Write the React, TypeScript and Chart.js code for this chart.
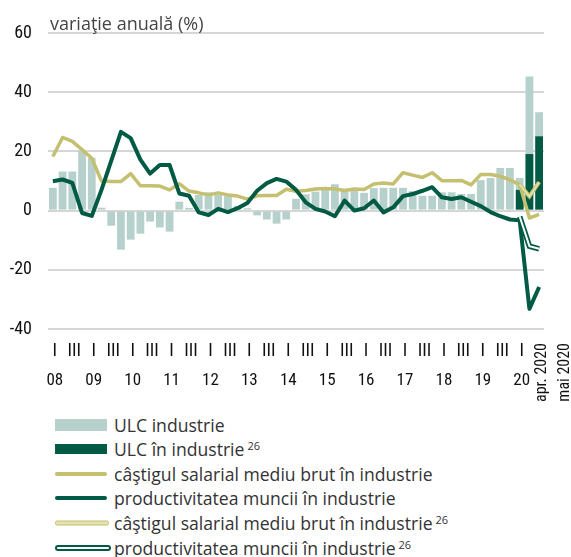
import React, { useEffect, useRef } from "react";
import { Chart, registerables } from "chart.js";

Chart.register(...registerables);

// ---------- data ----------
const YEARS = ["2008", "2009", "2010", "2011", "2012", "2013", "2014", "2015", "2016", "2017", "2018", "2019"];
const QUARTERS = ["I", "II", "III", "IV"];
const MONTHS = ["apr. 2020", "mai 2020"];
const CATEGORIES: string[] = [
  ...YEARS.flatMap((y) => QUARTERS.map((q) => `${y} ${q}`)),
  "2020 I",
  ...MONTHS,
];

// ULC industrie (annual % change)
const ULC_INDUSTRIE = [
  7.7, 13.2, 13.2, 20.2, 17.8, 1.0, -5.1, -13.2, -9.8, -7.8, -3.7, -5.7,
  -7.1, 3.0, 0.9, 5.3, 6.2, 5.3, 4.9, 1.5, 0.8, -1.6, -3.0, -4.4,
  -3.0, 4.0, 5.5, 6.4, 7.3, 8.9, 7.3, 7.3, 6.0, 7.6, 7.7, 7.7,
  7.7, 6.6, 5.0, 5.0, 6.2, 6.2, 5.6, 5.6, 10.3, 11.0, 14.4, 14.4,
  11.0, 45.3, 33.2,
];

// ULC în industrie (26)
const ULC_INDUSTRIE_26 = [
  null, null, null, null, null, null, null, null, null, null, null, null,
  null, null, null, null, null, null, null, null, null, null, null, null,
  null, null, null, null, null, null, null, null, null, null, null, null,
  null, null, null, null, null, null, null, null, null, null, null, null,
  7.0, 19.1, 25.1,
];

// câştigul salarial mediu brut în industrie
const CASTIG = [
  18.3, 24.7, 23.4, 20.6, 17.7, 10.0, 9.8, 9.8, 12.5, 8.4, 8.4, 8.3,
  7.0, 9.1, 6.6, 6.0, 5.3, 6.0, 5.3, 4.9, 3.9, 5.0, 5.1, 5.1,
  7.2, 6.5, 6.8, 7.3, 7.5, 7.3, 6.8, 7.3, 7.1, 9.0, 9.3, 9.0,
  12.8, 12.0, 11.2, 12.8, 10.1, 10.1, 10.2, 8.7, 12.2, 12.2, 11.6, 10.4,
  8.8, -2.5, -1.3,
];

// productivitatea muncii în industrie
const PRODUCTIVITATE = [
  9.9, 10.5, 9.4, -0.8, -1.8, 7.0, 16.8, 26.6, 24.5, 17.2, 12.5, 15.4,
  15.4, 5.8, 5.0, -0.6, -1.5, 0.6, -0.5, 0.8, 2.6, 6.7, 9.3, 10.7,
  9.8, 7.0, 2.8, 0.6, -0.3, -1.9, 3.4, 0.0, 0.8, 3.4, -0.6, 1.1,
  4.9, 5.6, 6.7, 7.9, 4.5, 3.9, 4.5, 3.0, 1.5, -0.5, -1.9, -3.0,
  -3.3, -33.2, -25.8,
];

// câştigul salarial mediu brut în industrie (26)
const CASTIG_26 = [
  null, null, null, null, null, null, null, null, null, null, null, null,
  null, null, null, null, null, null, null, null, null, null, null, null,
  null, null, null, null, null, null, null, null, null, null, null, null,
  null, null, null, null, null, null, null, null, null, null, null, null,
  8.8, 4.8, 9.6,
];

// productivitatea muncii în industrie (26)
const PRODUCTIVITATE_26 = [
  null, null, null, null, null, null, null, null, null, null, null, null,
  null, null, null, null, null, null, null, null, null, null, null, null,
  null, null, null, null, null, null, null, null, null, null, null, null,
  null, null, null, null, null, null, null, null, null, null, null, null,
  -2.0, -12.0, -12.9,
];

const Y_MIN = -40;
const Y_MAX = 60;
const Y_STEP = 20;

// ---------- styles ----------
const LIGHT = "#b6d0cc";
const DARK = "#005a44";
const KHAKI = "#c4c070";
const KHAKI_LIGHT = "#e4e2ae";
const NARROW = "'Liberation Sans Narrow', 'Roboto Condensed', 'DejaVu Sans Condensed', Roboto, sans-serif";
const TEXT_FONT = "'Open Sans', 'Noto Sans', sans-serif";

const axisLabelsPlugin = {
  id: "axisLabels",
  afterDraw(chart: any) {
    const { ctx } = chart;
    const x = chart.scales.x;
    ctx.save();
    ctx.fillStyle = "#111";
    CATEGORIES.forEach((cat, i) => {
      const px = x.getPixelForValue(i) + 2;
      const m = cat.match(/^(\d{4}) (I|II|III|IV)$/);
      if (m) {
        ctx.textAlign = "center";
        ctx.textBaseline = "middle";
        ctx.font = `18px ${NARROW}`;
        if (m[2] === "I") {
          ctx.fillText("I", px, 351);
          ctx.font = `17px ${NARROW}`;
          ctx.fillText(m[1].slice(2), px, 381);
        } else if (m[2] === "III") {
          ctx.fillText("III", px, 351);
        }
      } else {
        const mi = MONTHS.indexOf(cat);
        const lx = x.getPixelForValue(i) + (mi === 0 ? 17 : 30);
        ctx.save();
        ctx.font = `16px ${NARROW}`;
        ctx.translate(lx, 343);
        ctx.rotate(-Math.PI / 2);
        ctx.textAlign = "right";
        ctx.textBaseline = "alphabetic";
        ctx.fillText(cat, 0, 0);
        ctx.restore();
      }
    });
    ctx.restore();
  },
};

type LegendItem = { label: string; sup?: string; swatch: React.CSSProperties };

const LEGEND: LegendItem[] = [
  { label: "ULC industrie", swatch: { height: 12, background: LIGHT } },
  { label: "ULC în industrie", sup: "26", swatch: { height: 10, background: DARK } },
  { label: "câştigul salarial mediu brut în industrie", swatch: { height: 4, borderRadius: 2, background: KHAKI } },
  { label: "productivitatea muncii în industrie", swatch: { height: 4, borderRadius: 2, background: DARK } },
  { label: "câştigul salarial mediu brut în industrie", sup: "26", swatch: { height: 3, borderRadius: 2, background: KHAKI_LIGHT, border: `1px solid ${KHAKI}` } },
  { label: "productivitatea muncii în industrie", sup: "26", swatch: { height: 2, borderRadius: 3, background: "#fff", border: `2px solid ${DARK}` } },
];

export default function App() {
  const ref = useRef<HTMLCanvasElement>(null);

  useEffect(() => {
    const chart = new Chart(ref.current as HTMLCanvasElement, {
      type: "bar",
      data: {
        labels: CATEGORIES,
        datasets: [
          {
            type: "line",
            label: "productivitatea muncii în industrie 26 (inner)",
            data: PRODUCTIVITATE_26,
            borderColor: "#ffffff",
            borderWidth: 2,
            pointRadius: 0,
            tension: 0,
            order: 0,
          } as any,
          {
            type: "line",
            label: "productivitatea muncii în industrie 26",
            data: PRODUCTIVITATE_26,
            borderColor: DARK,
            borderWidth: 5.5,
            pointRadius: 0,
            tension: 0,
            order: 1,
          } as any,
          {
            type: "line",
            label: "câştigul salarial mediu brut în industrie 26 (inner)",
            data: CASTIG_26,
            borderColor: KHAKI_LIGHT,
            borderWidth: 1.8,
            pointRadius: 0,
            tension: 0,
            order: 2,
          } as any,
          {
            type: "line",
            label: "câştigul salarial mediu brut în industrie 26",
            data: CASTIG_26,
            borderColor: KHAKI,
            borderWidth: 4,
            pointRadius: 0,
            tension: 0,
            order: 3,
          } as any,
          {
            type: "line",
            label: "productivitatea muncii în industrie",
            data: PRODUCTIVITATE,
            borderColor: DARK,
            borderWidth: 4,
            pointRadius: 0,
            tension: 0,
            borderJoinStyle: "round",
            order: 4,
          } as any,
          {
            type: "line",
            label: "câştigul salarial mediu brut în industrie",
            data: CASTIG,
            borderColor: KHAKI,
            borderWidth: 3.5,
            pointRadius: 0,
            tension: 0,
            borderJoinStyle: "round",
            order: 5,
          } as any,
          {
            type: "bar",
            label: "ULC în industrie 26",
            data: ULC_INDUSTRIE_26,
            backgroundColor: DARK,
            grouped: false,
            barPercentage: 0.8,
            categoryPercentage: 1,
            order: 6,
          } as any,
          {
            type: "bar",
            label: "ULC industrie",
            data: ULC_INDUSTRIE,
            backgroundColor: LIGHT,
            grouped: false,
            barPercentage: 0.8,
            categoryPercentage: 1,
            order: 7,
          } as any,
        ],
      },
      options: {
        responsive: false,
        animation: false,
        events: [],
        layout: { padding: { left: 0, right: 27, top: 33, bottom: 81 } },
        plugins: { legend: { display: false }, tooltip: { enabled: false } },
        scales: {
          x: { type: "category", display: false, offset: true },
          y: {
            min: Y_MIN,
            max: Y_MAX,
            afterFit: (s: any) => {
              s.width = 48;
            },
            border: { display: false },
            grid: { color: "#d6d6d6", lineWidth: 2, drawTicks: false },
            ticks: {
              stepSize: Y_STEP,
              padding: 16,
              color: "#111",
              font: { family: NARROW, size: 18 },
            },
          },
        },
      },
      plugins: [axisLabelsPlugin],
    } as any);
    return () => chart.destroy();
  }, []);

  return (
    <div
      style={{
        position: "fixed",
        left: 0,
        top: 0,
        width: 571,
        height: 557,
        background: "#fff",
        overflow: "hidden",
        fontFamily: TEXT_FONT,
      }}
    >
      <canvas ref={ref} width={571} height={410} style={{ position: "absolute", left: 0, top: 0 }} />
      <div
        style={{
          position: "absolute",
          left: 50,
          top: 13,
          fontSize: 18,
          lineHeight: "20px",
          color: "#444",
          whiteSpace: "nowrap",
        }}
      >
        variaţie anuală (%)
      </div>
      {LEGEND.map((item, i) => {
        const cy = 424.5 + i * 24.6;
        return (
          <div key={i} style={{ position: "absolute", left: 0, top: cy - 12, height: 24, width: 571 }}>
            <div
              style={{
                position: "absolute",
                left: 55,
                width: 52,
                top: "50%",
                transform: "translateY(-50%)",
                ...item.swatch,
              }}
            />
            <div
              style={{
                position: "absolute",
                left: 114,
                top: 0,
                lineHeight: "24px",
                fontSize: 17.6,
                color: "#333",
                whiteSpace: "nowrap",
              }}
            >
              {item.label}
              {item.sup ? (
                <span style={{ fontSize: 11, verticalAlign: "top", position: "relative", top: -3, marginLeft: 3 }}>
                  {item.sup}
                </span>
              ) : null}
            </div>
          </div>
        );
      })}
    </div>
  );
}
